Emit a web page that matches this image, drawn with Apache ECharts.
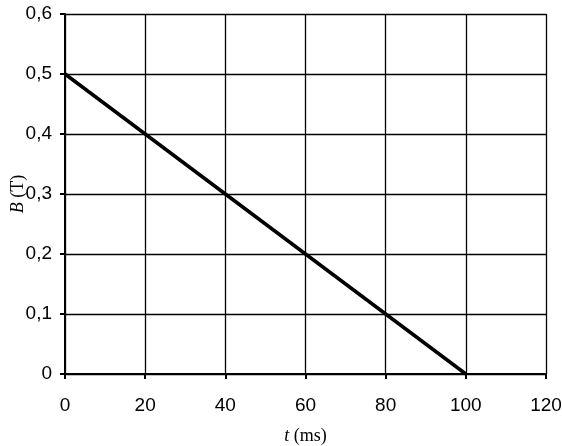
<!DOCTYPE html>
<html>
<head>
<meta charset="utf-8">
<script src="https://cdn.jsdelivr.net/npm/echarts@6/dist/echarts.min.js"></script>
<style>
  html, body { margin: 0; padding: 0; background: #fff; }
  #chart { width: 562px; height: 446px; }
</style>
</head>
<body>
<div id="chart"></div>
<script>
// time in ms and field in tesla
const tValues = [0, 20, 40, 60, 80, 100]
const bValues = [0.5, 0.4, 0.3, 0.2, 0.1, 0]

const chart = echarts.init(document.getElementById('chart'))

const axisText = {
  color: '#000',
  fontSize: 19,
  fontFamily: 'Liberation Sans Narrow, Arial Narrow, Liberation Sans, sans-serif',
}
const nameText = {
  color: '#000',
  fontSize: 18,
  fontFamily: 'Liberation Serif, Times New Roman, serif',
  rich: {
    i: { fontStyle: 'italic', fontSize: 18, fontFamily: 'Liberation Serif, serif', color: '#000' },
  },
}

const option = {
  animation: false,
  grid: { left: 65, top: 14, width: 481, height: 360, containLabel: false, outerBoundsMode: 'none' },
  xAxis: {
    type: 'value',
    min: 0,
    max: 120,
    interval: 20,
    name: '{i|t} (ms)',
    nameLocation: 'middle',
    nameGap: 53,
    nameMoveOverlap: false,
    nameTextStyle: nameText,
    axisLine: { show: true, lineStyle: { color: '#000', width: 2 } },
    axisTick: { show: true, length: 5, lineStyle: { color: '#000', width: 2 } },
    axisLabel: { ...axisText, margin: 22 },
    splitLine: { show: true, lineStyle: { color: '#000', width: 1.3 } },
  },
  yAxis: {
    type: 'value',
    min: 0,
    max: 0.6,
    interval: 0.1,
    name: '{i|B} (T)',
    nameLocation: 'middle',
    nameGap: 38,
    nameMoveOverlap: false,
    nameRotate: 90,
    nameTextStyle: nameText,
    axisLine: { show: true, lineStyle: { color: '#000', width: 2 } },
    axisTick: { show: true, length: 5, lineStyle: { color: '#000', width: 2 } },
    axisLabel: {
      ...axisText,
      margin: 13,
      formatter: (v) => (v === 0 ? '0' : v.toFixed(1).replace('.', ',')),
    },
    splitLine: { show: true, lineStyle: { color: '#000', width: 1.3 } },
  },
  series: [
    {
      type: 'line',
      data: tValues.map((t, i) => [t, bValues[i]]),
      symbol: 'none',
      lineStyle: { color: '#000', width: 3.5 },
    },
  ],
}

chart.setOption(option)
</script>
</body>
</html>
